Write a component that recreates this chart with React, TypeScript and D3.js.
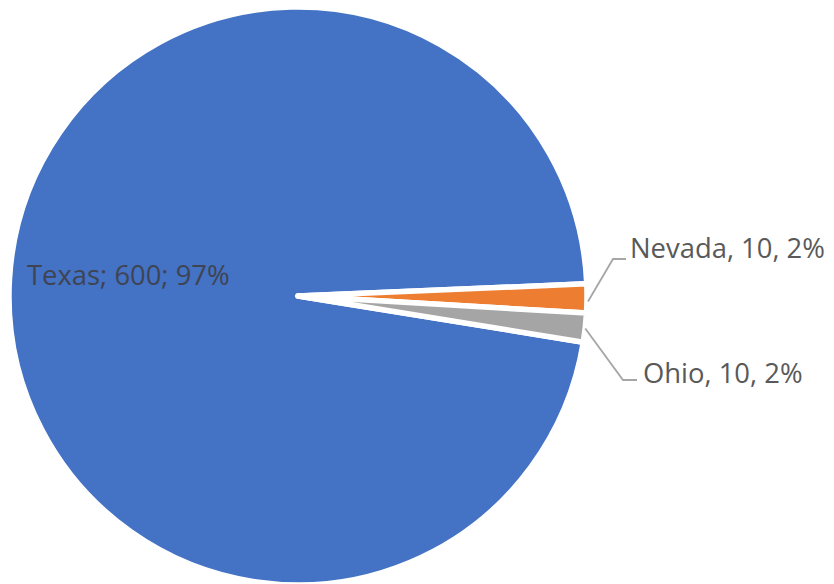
import React from "react";
import * as d3 from "d3";

const categories = ["Texas", "Nevada", "Ohio"];
const values = [600, 10, 10];
const separators = [";", ",", ","];
const colors = ["#4472C4", "#ED7D31", "#A5A5A5"];

const W = 834;
const H = 584;
const cx = 298;
const cy = 296;
const R = 289;
const FONT = "'Open Sans', 'Noto Sans', sans-serif";
const FS = 27.4;

export default function App() {
  const total = d3.sum(values);
  const fmtPct = d3.format(".0%");
  const start = (99.2 * Math.PI) / 180;
  const pie = d3
    .pie<number>()
    .sort(null)
    .value((d) => d)
    .startAngle(start)
    .endAngle(start + 2 * Math.PI);
  const arcs = pie(values);
  const arc = d3.arc<d3.PieArcDatum<number>>().innerRadius(0).outerRadius(R);

  const label = (i: number) => {
    const s = separators[i];
    return `${categories[i]}${s} ${values[i]}${s} ${fmtPct(values[i] / total)}`;
  };

  const edgePoint = (i: number) => {
    const a = (arcs[i].startAngle + arcs[i].endAngle) / 2;
    return [cx + (R - 1) * Math.sin(a), cy - (R - 1) * Math.cos(a)];
  };

  const nv = edgePoint(1);
  const oh = edgePoint(2);
  const line = d3.line();

  return (
    <svg width={W} height={H} style={{ position: "absolute", left: 0, top: 0 }}>
      <rect width={W} height={H} fill="#ffffff" />
      <g transform={`translate(${cx},${cy})`}>
        {arcs.map((a, i) => (
          <path
            key={categories[i]}
            d={arc(a) || ""}
            fill={colors[i]}
            stroke="#ffffff"
            strokeWidth={5.5}
            strokeLinejoin="round"
          />
        ))}
      </g>
      <path
        d={line([[nv[0] + 2, nv[1] + 3], [613, 259], [626, 259]]) || ""}
        fill="none"
        stroke="#A6A6A6"
        strokeWidth={1.8}
      />
      <path
        d={line([[oh[0] + 1, oh[1] + 1], [623, 380], [637, 380]]) || ""}
        fill="none"
        stroke="#A6A6A6"
        strokeWidth={1.8}
      />
      <text x={27} y={285} fontFamily={FONT} fontSize={FS} fill="#3f4452">
        {label(0)}
      </text>
      <text x={630} y={258} fontFamily={FONT} fontSize={FS} fill="#595959">
        {label(1)}
      </text>
      <text x={643} y={383} fontFamily={FONT} fontSize={FS} fill="#595959">
        {label(2)}
      </text>
    </svg>
  );
}
